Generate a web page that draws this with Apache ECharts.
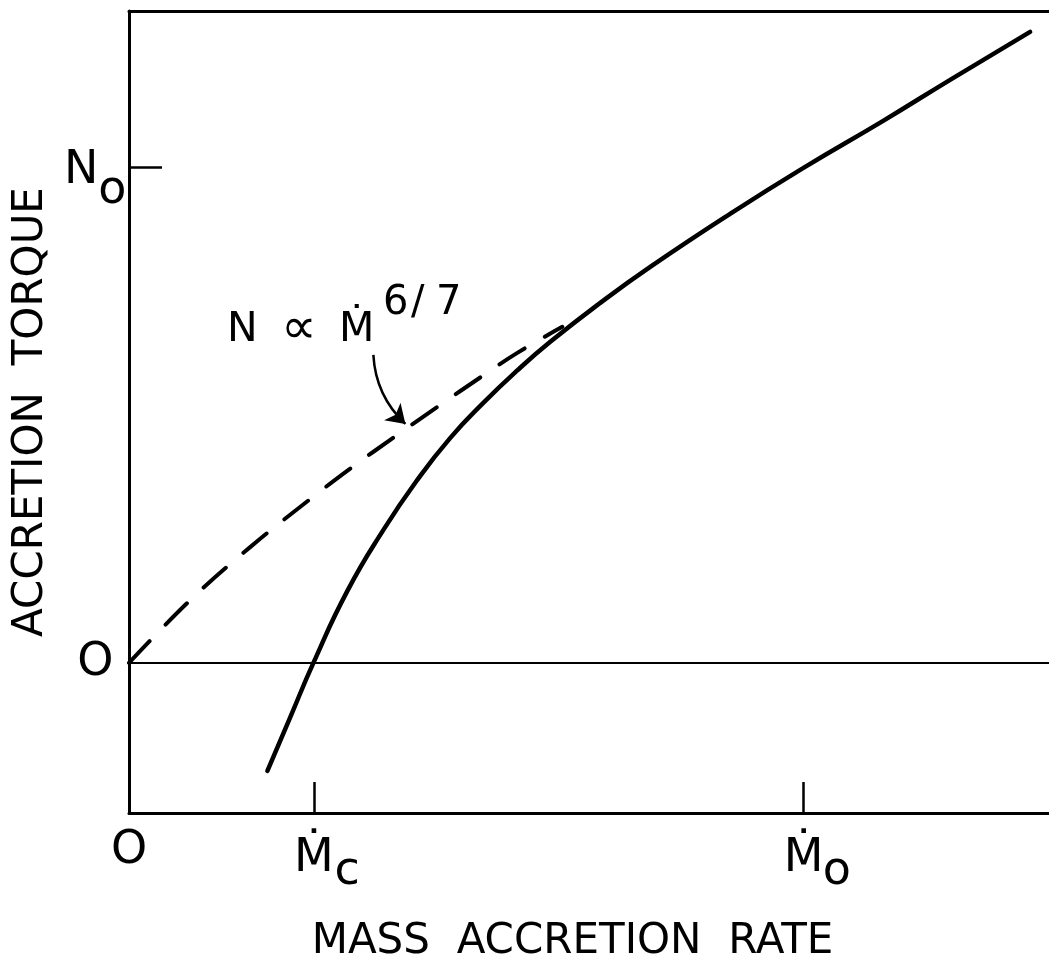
<!DOCTYPE html>
<html>
<head>
<meta charset="utf-8">
<script src="https://cdn.jsdelivr.net/npm/echarts@6/dist/echarts.min.js"></script>
<style>
html,body{margin:0;padding:0;background:#fff;}
#chart{width:1049px;height:969px;}
</style>
</head>
<body>
<div id="chart"></div>
<script>
// ---- data (x in units of Mdot_0, y in units of N_0) ----
const xTickValues = [0, 0.274, 1.0];
const xTickLabels = ['O', 'Ṁc', 'Ṁo'];
const yTickValues = [0, 1.0];
const yTickLabels = ['O', 'No'];
const xTitle = 'MASS  ACCRETION  RATE';
const yTitle = 'ACCRETION  TORQUE';

// full accretion torque curve (solid)
const torqueX = [0.2052, 0.2393, 0.2734, 0.3238, 0.3772, 0.4275, 0.4764, 0.5253, 0.5757, 0.6246, 0.6987, 0.7728, 0.8958, 1.0, 1.1181, 1.2174, 1.3360];
const torqueY = [-0.2181, -0.1090, 0, 0.1454, 0.2685, 0.3695, 0.4543, 0.5249, 0.5905, 0.6481, 0.7268, 0.7995, 0.9106, 0.9994, 1.0943, 1.1771, 1.2740];

// N ∝ Ṁ^(6/7) (dashed)
const powerLawX = [0, 0.0911, 0.1801, 0.2690, 0.3283, 0.3979, 0.4572, 0.5254, 0.5757, 0.6424];
const powerLawY = [0, 0.1272, 0.2342, 0.3311, 0.3927, 0.4603, 0.5169, 0.5805, 0.6259, 0.6784];

// annotation arrow (start -> tip) and label anchor
const arrowX = [0.3623, 0.4098];
const arrowY = [0.6219, 0.4825];
const noteX = [0.1445];
const noteY = [0.6996];
const noteParts = ['N', '∝', 'Ṁ', '6', '/', '7'];

// ---- chart ----
const FONT = 'DejaVu Sans';
const INK = '#000';
const xMin = 0, xMax = 1.364, yMin = -0.303, yMax = 1.316;

const zip = (a, b) => a.map((v, i) => [v, b[i]]);
const idxOf = (arr, v) => arr.findIndex(t => Math.abs(t - v) < 1e-6);

function xLabel(v) {
  const s = xTickLabels[idxOf(xTickValues, v)] || '';
  if (s.length === 1) return '{o|' + s + '}';
  return '{lp| }{m|' + s[0] + '}{sub|' + s.slice(1) + '}';
}
function yLabel(v) {
  const s = yTickLabels[idxOf(yTickValues, v)] || '';
  if (s.length === 1) return '{o|' + s + '}{rp| }';
  return '{n|' + s[0] + '}{ns|' + s.slice(1) + '}';
}

const base = { fontFamily: FONT, color: INK, fontSize: 46, lineHeight: 46 };
const note = { fontFamily: FONT, color: INK, fontSize: 41, lineHeight: 42 };
const sup = { fontFamily: FONT, color: INK, fontSize: 40, lineHeight: 40, padding: [1.5, 0, 27.5, 0] };

const chart = echarts.init(document.getElementById('chart'), null, { renderer: 'canvas' });
chart.setOption({
  backgroundColor: '#fff',
  animation: false,
  grid: { left: 129, right: 0, top: 11, bottom: 156 },
  xAxis: [{
    type: 'value', min: xMin, max: xMax,
    name: xTitle, nameLocation: 'middle', nameGap: 108,
    nameTextStyle: { fontFamily: FONT, fontSize: 42, lineHeight: 42, color: INK, padding: [0, 33, 0, 0] },
    axisLine: { show: true, onZero: false, lineStyle: { color: INK, width: 3 } },
    axisTick: { show: true, inside: true, length: 31, customValues: xTickValues.slice(1), lineStyle: { color: INK, width: 2.5 } },
    axisLabel: {
      show: true, customValues: xTickValues, margin: 15.5, formatter: xLabel,
      rich: {
        o: Object.assign({}, base),
        m: Object.assign({}, base, { padding: [15, 0, 0, 0] }),
        sub: Object.assign({}, base, { width: 27, padding: [41, 0, 0, 0] }),
        lp: Object.assign({}, base, { width: 27, padding: [15, 0, 0, 0] })
      }
    },
    splitLine: { show: false }
  }, {
    type: 'value', min: xMin, max: xMax, position: 'top',
    axisLine: { show: true, onZero: false, lineStyle: { color: INK, width: 3 } },
    axisTick: { show: false }, axisLabel: { show: false }, splitLine: { show: false }
  }],
  yAxis: {
    type: 'value', min: yMin, max: yMax,
    name: yTitle, nameLocation: 'middle', nameGap: 77, nameRotate: 90,
    nameTextStyle: { fontFamily: FONT, fontSize: 42, lineHeight: 42, color: INK },
    axisLine: { show: true, onZero: false, lineStyle: { color: INK, width: 3 } },
    axisTick: { show: true, inside: true, length: 33, customValues: yTickValues.slice(1), lineStyle: { color: INK, width: 2.5 } },
    axisLabel: {
      show: true, customValues: yTickValues, margin: 2.5, formatter: yLabel,
      rich: {
        o: Object.assign({}, base),
        rp: Object.assign({}, base, { width: 13 }),
        n: Object.assign({}, base, { padding: [30, 0, 22, 0] }),
        ns: Object.assign({}, base, { padding: [48, 0, 0, 0] })
      }
    },
    splitLine: { show: false }
  },
  series: [{
    name: 'torque',
    type: 'line',
    data: zip(torqueX, torqueY),
    showSymbol: false,
    smooth: 0.5,
    lineStyle: { color: INK, width: 4.5, cap: 'round' },
    markLine: {
      silent: true, symbol: ['none', 'none'], label: { show: false },
      lineStyle: { color: INK, width: 2, type: 'solid' },
      data: [{ yAxis: 0 }]
    },
    z: 3
  }, {
    name: 'power law',
    type: 'line',
    data: zip(powerLawX, powerLawY),
    showSymbol: false,
    smooth: 0.4,
    lineStyle: { color: INK, width: 4, type: [30, 23], cap: 'round' },
    z: 2
  }, {
    name: 'arrow',
    type: 'lines',
    coordinateSystem: 'cartesian2d',
    symbol: ['none', 'arrow'],
    symbolSize: [11, 18],
    lineStyle: { color: INK, width: 2.5, curveness: -0.2, opacity: 1 },
    data: [{ coords: zip(arrowX, arrowY) }],
    z: 4
  }, {
    name: 'note',
    type: 'scatter',
    data: zip(noteX, noteY),
    symbolSize: 1,
    itemStyle: { color: 'rgba(0,0,0,0)', opacity: 1 },
    label: {
      show: true, position: 'right', distance: 0, color: INK, opacity: 1,
      formatter: '{n|' + noteParts[0] + '}{p|' + noteParts[1] + '}{m|' + noteParts[2] + '}{s1|' + noteParts[3] + '}{s2|' + noteParts[4] + '}{s3|' + noteParts[5] + '}',
      rich: {
        n: Object.assign({}, note, { width: 54, padding: [27, 0, 0, 0] }),
        p: Object.assign({}, note, { fontSize: 50, width: 58, padding: [27, 0, 0, 0] }),
        m: Object.assign({}, note, { width: 44, padding: [27, 0, 0, 0] }),
        s1: Object.assign({}, sup, { width: 28 }),
        s2: Object.assign({}, sup, { width: 25 }),
        s3: Object.assign({}, sup)
      }
    },
    labelLayout: { hideOverlap: false },
    silent: true,
    z: 5
  }]
});
</script>
</body>
</html>
